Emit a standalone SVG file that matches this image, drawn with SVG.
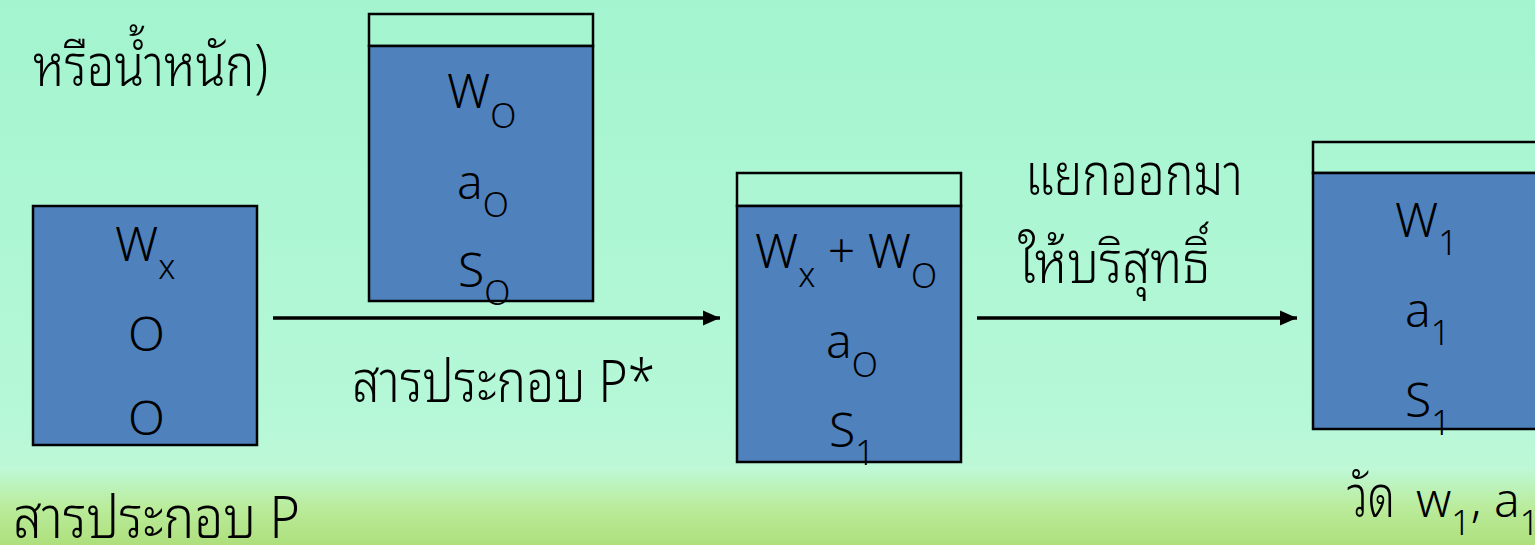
<svg xmlns="http://www.w3.org/2000/svg" width="1535" height="545" viewBox="0 0 1535 545">
<defs>
<linearGradient id="bg" x1="0" y1="0" x2="0" y2="1">
<stop offset="0" stop-color="#A3F4CF"/>
<stop offset="0.78" stop-color="#B6F8D8"/>
<stop offset="0.86" stop-color="#BEF8D6"/>
<stop offset="0.93" stop-color="#BAEC9C"/>
<stop offset="1" stop-color="#AEDF7C"/>
</linearGradient>
<marker id="ah" markerUnits="userSpaceOnUse" markerWidth="17" markerHeight="16" viewBox="0 0 17 16" refX="17" refY="8" orient="auto">
<path d="M0,0.5 L17,8 L0,15.5 Z" fill="#000"/>
</marker>
<style>
.t{font-family:"Noto Sans","Noto Sans Thai","DejaVu Sans",sans-serif;font-size:48px;font-weight:300;fill:#000}
.th{font-family:"Noto Sans Thai Looped","Loma","Garuda","Norasi","TlwgTypist","Noto Sans","Noto Sans Thai",sans-serif;font-size:58px}
.s{font-size:34px}
.box{fill:#4F81BD;stroke:#000;stroke-width:2.5}
.cap{fill:none;stroke:#000;stroke-width:2.5}
.arr{stroke:#000;stroke-width:3.5;fill:none}
</style>
</defs>
<rect width="1535" height="545" fill="url(#bg)"/>

<text class="t th" x="33" y="86" textLength="235" lengthAdjust="spacingAndGlyphs">หรือน้ำหนัก)</text>

<g id="node-p">
<rect class="box" x="33" y="206" width="224" height="239"/>
<text class="t" x="115" y="261">W<tspan class="s" dy="18">x</tspan></text>
<text class="t" x="128" y="351">O</text>
<text class="t" x="128" y="435">O</text>
</g>

<g id="node-p-star">
<rect class="cap" x="369" y="14" width="224" height="32"/>
<rect class="box" x="369" y="46" width="224" height="255"/>
<text class="t" x="447" y="108">W<tspan class="s" dy="20">O</tspan></text>
<text class="t" x="457" y="199">a<tspan class="s" dy="18">O</tspan></text>
<text class="t" x="458" y="287">S<tspan class="s" dy="18">O</tspan></text>
</g>

<g id="node-mix">
<rect class="cap" x="737" y="173" width="224" height="33"/>
<rect class="box" x="737" y="206" width="224" height="256"/>
<text class="t" x="755" y="268">W<tspan class="s" dy="19">x</tspan><tspan dy="-19"> + W</tspan><tspan class="s" dy="20">O</tspan></text>
<text class="t" x="826" y="358">a<tspan class="s" dy="19">O</tspan></text>
<text class="t" x="829" y="447">S<tspan class="s" dy="18">1</tspan></text>
</g>

<g id="node-pure">
<rect class="cap" x="1313" y="142" width="240" height="31"/>
<rect class="box" x="1313" y="173" width="240" height="256"/>
<text class="t" x="1395" y="237">W<tspan class="s" dy="18">1</tspan></text>
<text class="t" x="1405" y="327">a<tspan class="s" dy="18">1</tspan></text>
<text class="t" x="1405" y="417">S<tspan class="s" dy="18">1</tspan></text>
</g>

<g id="connectors">
<line class="arr" x1="273" y1="318" x2="720" y2="318" marker-end="url(#ah)"/>
<line class="arr" x1="977" y1="318" x2="1297" y2="318" marker-end="url(#ah)"/>
</g>

<text class="t th" x="352" y="402" textLength="303" lengthAdjust="spacingAndGlyphs">สารประกอบ P*</text>
<text class="t th" x="1025" y="195" textLength="218" lengthAdjust="spacingAndGlyphs">แยกออกมา</text>
<text class="t th" x="1018" y="283" textLength="192" lengthAdjust="spacingAndGlyphs">ให้บริสุทธิ์</text>
<text class="t th" x="1347" y="517" textLength="48" lengthAdjust="spacingAndGlyphs">วัด</text>
<text class="t" x="1416" y="517">w<tspan class="s" dy="18">1</tspan><tspan dy="-18">, a</tspan><tspan class="s" dy="18">1</tspan></text>
<text class="t th" x="13" y="538" textLength="287" lengthAdjust="spacingAndGlyphs">สารประกอบ P</text>
</svg>
